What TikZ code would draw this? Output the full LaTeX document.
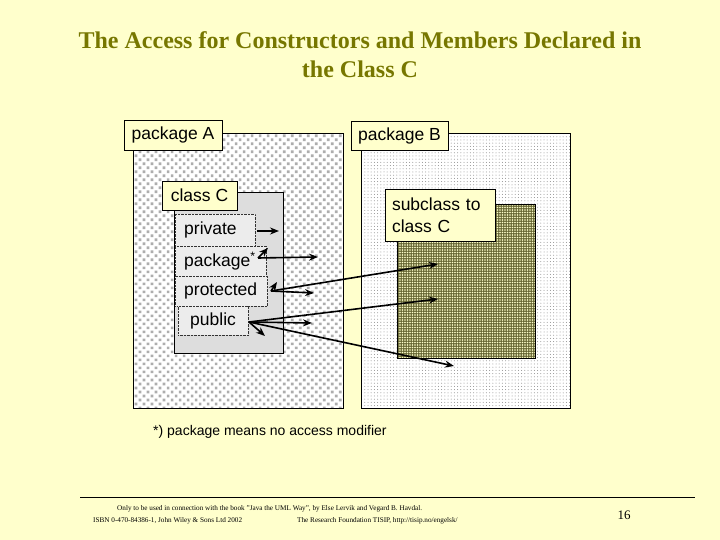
\documentclass[tikz,border=0pt]{standalone}
\usepackage{fontspec}
\setmainfont{Liberation Serif}
\setsansfont{Liberation Sans}
\definecolor{slidebg}{RGB}{255,255,204}
\definecolor{titleolive}{RGB}{119,119,0}
\definecolor{classgray}{RGB}{221,221,221}
\definecolor{membergray}{RGB}{236,236,236}
\definecolor{subolive}{RGB}{102,102,51}
\usetikzlibrary{shapes,arrows.meta,positioning,calc,patterns.meta}

\begin{document}
\begin{tikzpicture}[x=1pt, y=-1pt,
    lbl/.style={draw, fill=slidebg, line width=0.8pt, inner sep=0pt,
      font=\sffamily\fontsize{17.5}{22}\selectfont},
    area/.style={draw, line width=0.8pt, anchor=north west, inner sep=0pt},
    member/.style={draw=black!80, densely dotted, fill=membergray, anchor=north west,
      inner ysep=0pt, minimum height=30pt, align=left,
      font=\sffamily\fontsize{17.5}{20}\selectfont},
    acc/.style={-{Stealth[length=9pt,width=7pt]}, line width=1.6pt},
    foot/.style={font=\fontsize{7.2}{12}\selectfont, anchor=west, inner sep=0pt}]
  \useasboundingbox[fill=slidebg] (0,0) rectangle (720,540);

  % title
  \node[font=\bfseries\fontsize{24}{29}\selectfont, text=titleolive, align=center] (title) at (360,55)
    {The Access for Constructors and Members Declared in\\ the Class C};

  % package A with class C
  \node[area, minimum width=210pt, minimum height=275pt, preaction={fill=white},
    pattern={Dots[radius=1.9pt, distance=5.66pt, angle=45]}, pattern color=black!32] (pkgA) at (133,133) {};
  \node[lbl, minimum width=98pt, minimum height=30pt] (pkgAlbl) at (173,135) {package A};
  \node[area, fill=classgray, minimum width=109pt, minimum height=161pt] (classC) at (174,192) {};
  \node[lbl, minimum width=75pt, minimum height=29pt] (classClbl) at (199.5,195.5) {class C};

  \node[member, minimum height=32pt, inner xsep=9pt, text width=62pt] (priv) at (175,214) {private};
  \node[member, inner xsep=9pt, text width=73pt] (pack) at (175,246) {package\textsuperscript{*}};
  \node[member, inner xsep=9pt, text width=74pt] (prot) at (175,276) {protected};
  \node[member, minimum height=29pt, inner xsep=12pt, text width=46pt] (publ) at (178,306) {public};

  % package B with subclass
  \node[area, minimum width=209pt, minimum height=275pt, preaction={fill=white},
    pattern={Dots[radius=0.5pt, distance=3.2pt]}, pattern color=black!45] (pkgB) at (361,133) {};
  \node[lbl, minimum width=97pt, minimum height=29pt] (pkgBlbl) at (399.5,135.5) {package B};
  \node[area, minimum width=138pt, minimum height=154pt, preaction={fill=subolive},
    pattern={Dots[radius=0.8pt, distance=2.5pt]}, pattern color=slidebg] (sub) at (397,204) {};
  \node[lbl, inner xsep=7pt, text width=96pt, minimum height=52pt, align=left] (sublbl) at (440,215)
    {subclass to\\class C};

  % access arrows
  \coordinate (privOut) at (257,231);
  \coordinate (packOut) at (258,258);
  \coordinate (protOut) at (271,291);
  \coordinate (publOut) at (249,322);
  \coordinate (privEnd) at (279,231);
  \coordinate (packEnd) at (268,248);
  \coordinate (packA) at (318,257);
  \coordinate (protEnd) at (277,282);
  \coordinate (protA) at (314,293);
  \coordinate (protSub) at (438,264);
  \coordinate (publEnd) at (265,336);
  \coordinate (publA) at (312,323);
  \coordinate (publSub) at (438,299);
  \coordinate (publB) at (454,366);

  \draw[acc] (privOut) -- (privEnd);
  \draw[acc] (packOut) -- (packEnd);
  \draw[acc] (packOut) -- (packA);
  \draw[acc] (protOut) -- (protEnd);
  \draw[acc] (protOut) -- (protA);
  \draw[acc] (protOut) -- (protSub);
  \draw[acc] (publOut) -- (publEnd);
  \draw[acc] (publOut) -- (publA);
  \draw[acc] (publOut) -- (publSub);
  \draw[acc] (publOut) -- (publB);

  \node[font=\sffamily\fontsize{14}{17}\selectfont, anchor=west, inner sep=0pt] (note) at (153,432)
    {*) package means no access modifier};

  % footer
  \coordinate (ruleL) at (80,497);
  \coordinate (ruleR) at (695,497);
  \draw[line width=0.8pt] (ruleL) -- (ruleR);
  \node[foot] (foot1) at (117,509)
    {Only to be used in connection with the book "Java the UML Way", by Else Lervik and Vegard B. Havdal.};
  \node[foot] (foot2) at (93,521) {ISBN 0-470-84386-1, John Wiley \& Sons Ltd 2002};
  \node[foot] (foot3) at (297,521) {The Research Foundation TISIP, http://tisip.no/engelsk/};
  \node[font=\fontsize{13}{15}\selectfont] (pagenr) at (624,515) {16};
\end{tikzpicture}
\end{document}
